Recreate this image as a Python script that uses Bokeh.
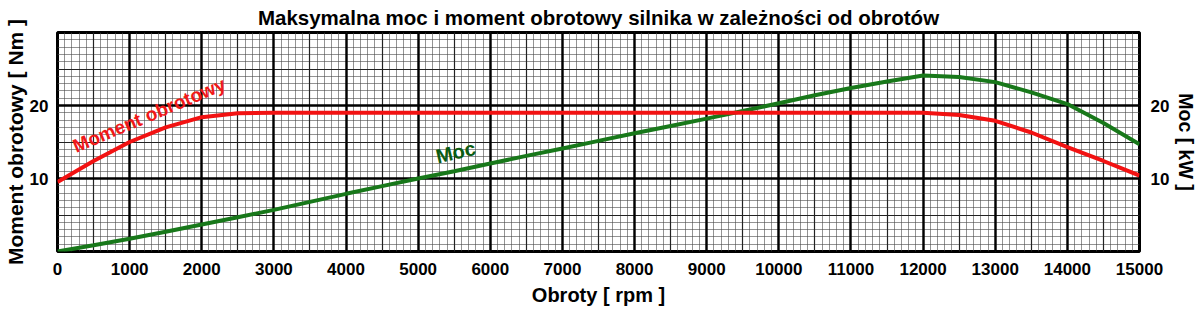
from bokeh.plotting import figure
from bokeh.models import (Range1d, LinearAxis, Grid, SingleIntervalTicker, FixedTicker,
                          ColumnDataSource)
from bokeh.core.properties import value
from bokeh.embed import file_html
from bokeh.resources import INLINE
import math

# ---- data ----
rpm = [0, 500, 1000, 1500, 2000, 2500, 3000, 3500, 4000, 4500, 5000, 5500, 6000, 6500,
       7000, 7500, 8000, 8500, 9000, 9500, 10000, 10500, 11000, 11500, 12000, 12500,
       13000, 13500, 14000, 14500, 15000]
torque_nm = [9.5, 12.4, 15.0, 17.0, 18.4, 18.95, 19.0, 19.0, 19.0, 19.0, 19.0, 19.0, 19.0, 19.0,
             19.0, 19.0, 19.0, 19.0, 19.0, 19.0, 19.0, 19.0, 19.0, 19.0, 19.0, 18.7,
             17.9, 16.3, 14.3, 12.4, 10.4]
power_kw = [0.0, 0.85, 1.75, 2.7, 3.7, 4.7, 5.7, 6.8, 7.9, 8.95, 10.0, 11.0, 12.05, 13.1,
            14.1, 15.15, 16.2, 17.2, 18.2, 19.25, 20.3, 21.4, 22.4, 23.3, 24.1, 23.9,
            23.2, 21.8, 20.2, 17.6, 14.7]
y_ticks = [10, 20]
title_text = "Maksymalna moc i moment obrotowy silnika w zależności od obrotów"
x_label = "Obroty [ rpm ]"
y_left_label = "Moment obrotowy [ Nm ]"
y_right_label = "Moc [ kW ]"
torque_label = "Moment obrotowy"
power_label = "Moc"

FONT = "Liberation Sans"

p = figure(width=1200, height=309, output_backend="svg", toolbar_location=None,
           x_range=Range1d(0, 15000), y_range=Range1d(0, 30),
           min_border_left=57, min_border_right=59, min_border_top=32, min_border_bottom=58,
           background_fill_color="white", border_fill_color="white")
p.extra_y_ranges = {"moc": Range1d(0, 30)}

p.title.text = title_text
p.title.align = "center"
p.title.vertical_align = "top"
p.title.text_font = FONT
p.title.text_font_size = "20.5px"
p.title.text_font_style = "bold"
p.title.text_color = "black"
p.title.standoff = 4

p.xgrid.visible = False
p.ygrid.visible = False

# paper-like grid
for dim, interval, color, width in [
    (0, 100, "#4a4a4a", 0.6), (1, 1, "#4a4a4a", 0.6),
    (0, 500, "#222222", 1.2), (1, 5, "#222222", 1.2),
    (0, 1000, "black", 2.4), (1, 10, "black", 2.4)]:
    g = Grid(dimension=dim, ticker=SingleIntervalTicker(interval=interval),
             grid_line_color=color, grid_line_width=width)
    p.add_layout(g)

p.outline_line_color = "black"
p.outline_line_width = 3

def style_axis(ax, label_size):
    ax.axis_line_color = None
    ax.major_tick_line_color = None
    ax.minor_tick_line_color = None
    ax.major_label_text_font = FONT
    ax.major_label_text_font_style = "bold"
    ax.major_label_text_font_size = "17px"
    ax.major_label_text_color = "black"
    ax.axis_label_text_font = FONT
    ax.axis_label_text_font_style = "bold"
    ax.axis_label_text_font_size = label_size
    ax.axis_label_text_color = "black"

xa = p.xaxis[0]
xa.ticker = SingleIntervalTicker(interval=1000)
xa.axis_label = x_label
xa.major_label_standoff = 5
xa.axis_label_standoff = 6
style_axis(xa, "20px")

ya = p.yaxis[0]
ya.ticker = FixedTicker(ticks=y_ticks)
ya.axis_label = y_left_label
ya.major_label_standoff = 3
ya.axis_label_standoff = 0
style_axis(ya, "21px")

ra = LinearAxis(y_range_name="moc", ticker=FixedTicker(ticks=y_ticks), axis_label=y_right_label)
ra.major_label_standoff = 5
ra.axis_label_standoff = 3
style_axis(ra, "19.5px")
p.add_layout(ra, "right")

src = ColumnDataSource(dict(rpm=rpm, torque=torque_nm, power=power_kw))
p.line("rpm", "power", source=src, line_color="#18781a", line_width=4, y_range_name="moc")
p.line("rpm", "torque", source=src, line_color="#f21212", line_width=4)

p.text(x=[1270], y=[18.7], text=[torque_label], angle=math.radians(23),
       text_font=value(FONT), text_font_style="bold", text_font_size="19px",
       text_color="#f01818", text_align="center", text_baseline="middle")
p.text(x=[5520], y=[13.6], text=[power_label], angle=math.radians(13),
       text_font=value(FONT), text_font_style="bold", text_font_size="20px",
       text_color="#0b5c12", text_align="center", text_baseline="middle")

open("out.html", "w").write(file_html(p, INLINE))
